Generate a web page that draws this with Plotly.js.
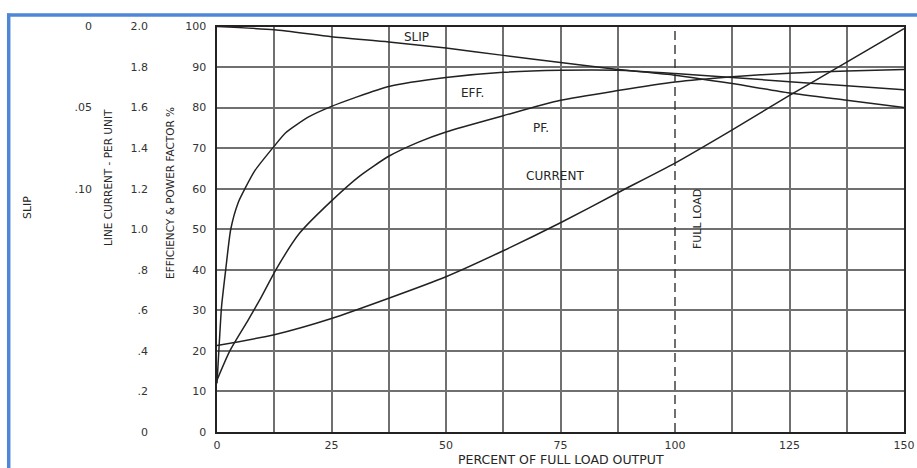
<!DOCTYPE html>
<html><head><meta charset="utf-8">
<script src="https://cdn.plot.ly/plotly-3.0.1.min.js"></script>
<style>html,body{margin:0;padding:0;background:#fff}#chart{width:917px;height:468px}</style>
</head><body><div id="chart"></div>
<script>
// Percent of full load output (x) for slip and current curves
const loadPct = [0, 12.5, 25, 37.5, 50, 62.5, 75, 87.5, 100, 112.5, 125, 137.5, 150];
// Slip (per unit)
const slip = [0, 0.002, 0.0063, 0.0095, 0.0133, 0.0178, 0.0222, 0.0265, 0.0300, 0.0352, 0.0410, 0.0455, 0.05];
// Line current (per unit)
const currentPU = [0.426, 0.48, 0.56, 0.66, 0.766, 0.894, 1.032, 1.18, 1.326, 1.49, 1.66, 1.824, 1.99];
// Efficiency (%)
const effX = [0, 0.5, 1, 1.9, 3, 4.6, 6.1, 8.3, 12.5, 15, 20, 25, 30, 37.5, 50, 62.5, 75, 87.5, 100, 112.5, 125, 137.5, 150];
const eff  = [12, 22, 31, 40, 50, 56.5, 60, 64.5, 70.5, 73.8, 77.7, 80.3, 82.4, 85.2, 87.4, 88.7, 89.2, 89.2, 88.4, 87.4, 86.4, 85.4, 84.4];
// Power factor (%)
const pfX = [0, 2.8, 6.8, 9.3, 13, 18, 25, 31, 37.5, 44, 50, 62.5, 75, 87.5, 100, 112.5, 125, 137.5, 150];
const pf  = [12.8, 20, 27.6, 32.5, 40.3, 49, 57, 63, 68, 71.5, 74, 78, 81.8, 84.2, 86.3, 87.6, 88.5, 89, 89.4];
// Full load marker
const fullLoadX = [100, 100];
const fullLoadY = [0, 100];
// Tick labels and grid positions
const xTickVals = [0, 25, 50, 75, 100, 125, 150];
const xGridVals = [12.5, 25, 37.5, 50, 62.5, 75, 87.5, 112.5, 125, 137.5];
const effTickVals = [0, 10, 20, 30, 40, 50, 60, 70, 80, 90, 100];
const curTickVals = [0, 0.2, 0.4, 0.6, 0.8, 1.0, 1.2, 1.4, 1.6, 1.8, 2.0];
const curTickText = ["0", ".2", ".4", ".6", ".8", "1.0", "1.2", "1.4", "1.6", "1.8", "2.0"];
const slipTickVals = [0, 0.05, 0.10];
const slipTickText = ["0", ".05", ".10"];

const W = 917, H = 468;
const px = v => v / W;
const py = v => (H - v) / H;
const FONT = "DejaVu Sans, Liberation Sans, sans-serif";
const lineStyle = {color: "#222", width: 1.5};
const GRID = "#707070";

const traces = [
  {x: loadPct, y: slip, yaxis: "y3", mode: "lines", line: Object.assign({shape: "spline", smoothing: 0.6}, lineStyle), name: "SLIP"},
  {x: effX, y: eff, yaxis: "y", mode: "lines", line: Object.assign({shape: "spline", smoothing: 0.6}, lineStyle), name: "EFF."},
  {x: pfX, y: pf, yaxis: "y", mode: "lines", line: Object.assign({shape: "spline", smoothing: 0.6}, lineStyle), name: "PF."},
  {x: loadPct, y: currentPU, yaxis: "y2", mode: "lines", line: Object.assign({shape: "spline", smoothing: 0.6}, lineStyle), name: "CURRENT"},
  {x: fullLoadX, y: fullLoadY, yaxis: "y", mode: "lines", line: {color: "#333", width: 1.4, dash: "9px,5px"}, name: "FULL LOAD"}
];

const yDom = [py(432), py(26.5)];
const tickFont = {family: FONT, size: 11, color: "#333"};

function lbl(text, x, y, ref, size, angle) {
  return {text: text, x: x, y: y, xref: ref === "paper" ? "paper" : "x", yref: ref === "paper" ? "paper" : "y",
          showarrow: false, xanchor: "center", yanchor: "middle", textangle: angle || 0,
          font: {family: FONT, size: size, color: "#262626"}};
}

const layout = {
  width: W, height: H, autosize: false,
  margin: {l: 0, r: 0, t: 0, b: 0},
  paper_bgcolor: "#fff", plot_bgcolor: "#fff",
  showlegend: false,
  xaxis: {
    domain: [px(217), px(904)], range: [0, 150],
    tickmode: "array", tickvals: xTickVals,
    showgrid: false,
    minor: {tickmode: "array", tickvals: xGridVals, showgrid: true, gridcolor: GRID, gridwidth: 2, ticks: ""},
    showline: true, linecolor: "#222", linewidth: 1.6, mirror: true,
    ticks: "", tickfont: tickFont, zeroline: false, ticklabelstandoff: 2
  },
  yaxis: {
    domain: yDom, range: [0, 100],
    tickmode: "array", tickvals: effTickVals,
    showgrid: true, gridcolor: GRID, gridwidth: 2,
    showline: true, linecolor: "#222", linewidth: 1.6, mirror: true,
    ticks: "", tickfont: tickFont, zeroline: false, ticklabelstandoff: 7
  },
  yaxis2: {
    domain: yDom, range: [0, 2], overlaying: "y", anchor: "free", position: px(148), side: "left",
    tickmode: "array", tickvals: curTickVals, ticktext: curTickText,
    showgrid: false, showline: false, zeroline: false, ticks: "", tickfont: tickFont
  },
  yaxis3: {
    domain: yDom, range: [0.25, 0], overlaying: "y", anchor: "free", position: px(92), side: "left",
    tickmode: "array", tickvals: slipTickVals, ticktext: slipTickText,
    showgrid: false, showline: false, zeroline: false, ticks: "", tickfont: tickFont
  },
  annotations: [
    lbl("SLIP", 43.6, 97.5, "data", 12),
    lbl("EFF.", 55.7, 83.5, "data", 12),
    lbl("PF.", 70.7, 74.9, "data", 12),
    lbl("CURRENT", 73.8, 63.1, "data", 12),
    lbl("FULL LOAD", 104.8, 52.5, "data", 11, -90),
    lbl("SLIP", px(27), py(208), "paper", 11, -90),
    lbl("LINE CURRENT - PER UNIT", px(108), py(178), "paper", 10.5, -90),
    lbl("EFFICIENCY &amp; POWER FACTOR %", px(170), py(193), "paper", 10.5, -90),
    lbl("PERCENT OF FULL LOAD OUTPUT", px(561), py(459.5), "paper", 12.5)
  ],
  shapes: [
    {type: "line", xref: "paper", yref: "paper", x0: px(8.7), x1: px(8.7), y0: 0, y1: py(13.5), line: {color: "#4f87d6", width: 3.5}},
    {type: "line", xref: "paper", yref: "paper", x0: px(7), x1: 1, y0: py(15), y1: py(15), line: {color: "#4f87d6", width: 3.5}}
  ]
};

Plotly.newPlot("chart", traces, layout, {staticPlot: true, displayModeBar: false});
</script></body></html>
